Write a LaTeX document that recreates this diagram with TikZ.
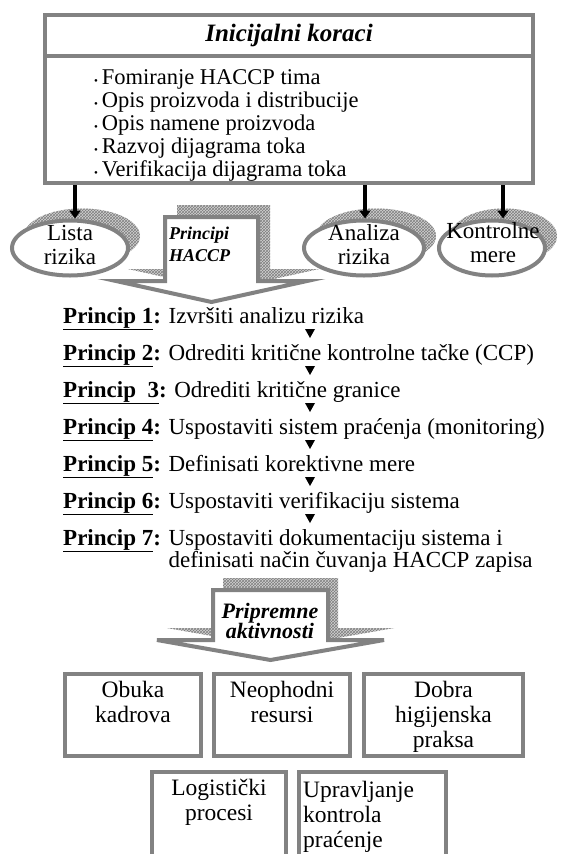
\documentclass[tikz,border=0pt]{standalone}
\usepackage{fontspec}
\setmainfont{Liberation Serif}
\usetikzlibrary{positioning,shapes.geometric,shadows,patterns,arrows.meta}

\definecolor{frame}{RGB}{130,130,130}
\newcommand\princ[1]{\underline{\textbf{#1}}\textbf{:} }

\tikzset{
  frm/.style={draw=frame,line width=4pt},
  hatch/.style={general shadow={fill=gray!35,shadow xshift=#1pt,shadow yshift=12pt},
                general shadow={pattern=crosshatch,pattern color=gray,shadow xshift=#1pt,shadow yshift=12pt}},
  hatch/.default=12,
  ell/.style={frm,ellipse,fill=white,inner sep=0pt,minimum height=55,hatch},
  etext/.style={align=center,inner sep=0pt,font=\fontsize{23}{24}\selectfont},
  pbox/.style={frm,rectangle,fill=white,inner sep=0pt},
  btext/.style={align=center,inner sep=0pt,font=\fontsize{23.5}{25}\selectfont},
  ptext/.style={anchor=base west,inner sep=0pt,font=\fontsize{23}{22}\selectfont},
  item/.style={anchor=base west,inner sep=0pt,font=\fontsize{22.5}{23}\selectfont},
  conn/.style={line width=3.5pt,-{Triangle[length=8pt,width=11pt]}}
}

\begin{document}
\begin{tikzpicture}[x=1pt,y=-1pt]
\useasboundingbox (0,0) rectangle (565,854);
\fill[white] (0,0) rectangle (565,854);
\clip (0,0) rectangle (565,854);

% Initial steps
\node[frm,minimum width=488,minimum height=168,inner sep=0pt] (init) at (289,99) {};
\coordinate (sep) at (0,56);
\draw[frm] (init.west |- sep) -- (init.east |- sep);
\node[font=\fontsize{25}{25}\selectfont\bfseries\itshape,inner sep=0pt] (title) at (289,35) {Inicijalni koraci};
\foreach \t [count=\i] in {Fomiranje HACCP tima,Opis proizvoda i distribucije,Opis namene proizvoda,Razvoj dijagrama toka,Verifikacija dijagrama toka}
  \node[item] (b\i) at (94,{61+23*\i}) {{\fontsize{11}{11}\selectfont\textbullet}\,\t};

% Principi HACCP arrow
\draw[frm,fill=white,hatch] (116,281) -- (165,281) -- (165,217) -- (258,217) -- (258,281) -- (307,281) -- (211.5,302) -- cycle;
\node[anchor=west,align=left,inner sep=0pt,font=\fontsize{18}{22}\selectfont\bfseries\itshape] (princ) at (169,244) {Principi\\HACCP};

% Ellipses
\node[ell,minimum width=116] (lista) at (70,248) {};
\node[etext] (listat) at (70,245) {Lista\\rizika};
\node[ell,minimum width=120] (analiza) at (364,248) {};
\node[etext] (analizat) at (364,245) {Analiza\\rizika};
\node[ell,minimum width=106] (kontr) at (492,248) {};
\node[etext] (kontrt) at (493,243) {Kontrolne\\mere};

\draw[conn] ([xshift=5pt]lista.north |- init.south) -- ([xshift=5pt]lista.north);
\draw[conn] ([xshift=1pt]analiza.north |- init.south) -- ([xshift=1pt]analiza.north);
\draw[conn] ([xshift=11pt]kontr.north |- init.south) -- ([xshift=11pt]kontr.north);

% Principles
\node[ptext] (p1) at (63,323) {\princ{Princip 1}Izvršiti analizu rizika};
\node[ptext] (p2) at (63,360) {\princ{Princip 2}Odrediti kritične kontrolne tačke (CCP)};
\node[ptext] (p3) at (63,397) {\princ{Princip\ \ 3}Odrediti kritične granice};
\node[ptext] (p4) at (63,434) {\princ{Princip 4}Uspostaviti sistem praćenja (monitoring)};
\node[ptext] (p5) at (63,471) {\princ{Princip 5}Definisati korektivne mere};
\node[ptext] (p6) at (63,508) {\princ{Princip 6}Uspostaviti verifikaciju sistema};
\node[ptext] (p7) at (63,545) {\princ{Princip 7}\begin{tabular}[t]{@{}l@{}}Uspostaviti dokumentaciju sistema i\\definisati način čuvanja HACCP zapisa\end{tabular}};
\foreach \yy in {316,353,390,427,464,501}
  \fill (305,\yy+13) -- (315,\yy+13) -- (310,\yy+22) -- cycle;

% Pripremne aktivnosti arrow
\draw[frm,fill=white,hatch=10] (157,640) -- (213,640) -- (213,590) -- (328,590) -- (328,640) -- (384,640) -- (270.5,660) -- cycle;
\node[align=center,inner sep=0pt,font=\fontsize{22}{20}\selectfont\bfseries\itshape] (prip) at (270,621) {Pripremne\\aktivnosti};

% Boxes
\node[pbox,minimum width=136,minimum height=82] (obuka) at (133,715) {};
\node[btext,below=9pt of obuka.north] (obukat) {Obuka\\kadrova};
\node[pbox,minimum width=136,minimum height=82] (resursi) at (282,715) {};
\node[btext,below=9pt of resursi.north] (resursit) {Neophodni\\resursi};
\node[pbox,minimum width=159,minimum height=82] (dhp) at (443.5,715) {};
\node[btext,below=9pt of dhp.north] (dhpt) {Dobra\\higijenska\\praksa};

\node[pbox,minimum width=134,minimum height=100] (logist) at (219,822) {};
\node[btext,below=9pt of logist.north] (logistt) {Logistički\\procesi};
\node[pbox,minimum width=147,minimum height=100] (upr) at (372.5,822) {};
\node[btext,align=left,anchor=north west] (uprt) at ([shift={(6,11)}]upr.north west) {Upravljanje\\kontrola\\praćenje};

\end{tikzpicture}
\end{document}
